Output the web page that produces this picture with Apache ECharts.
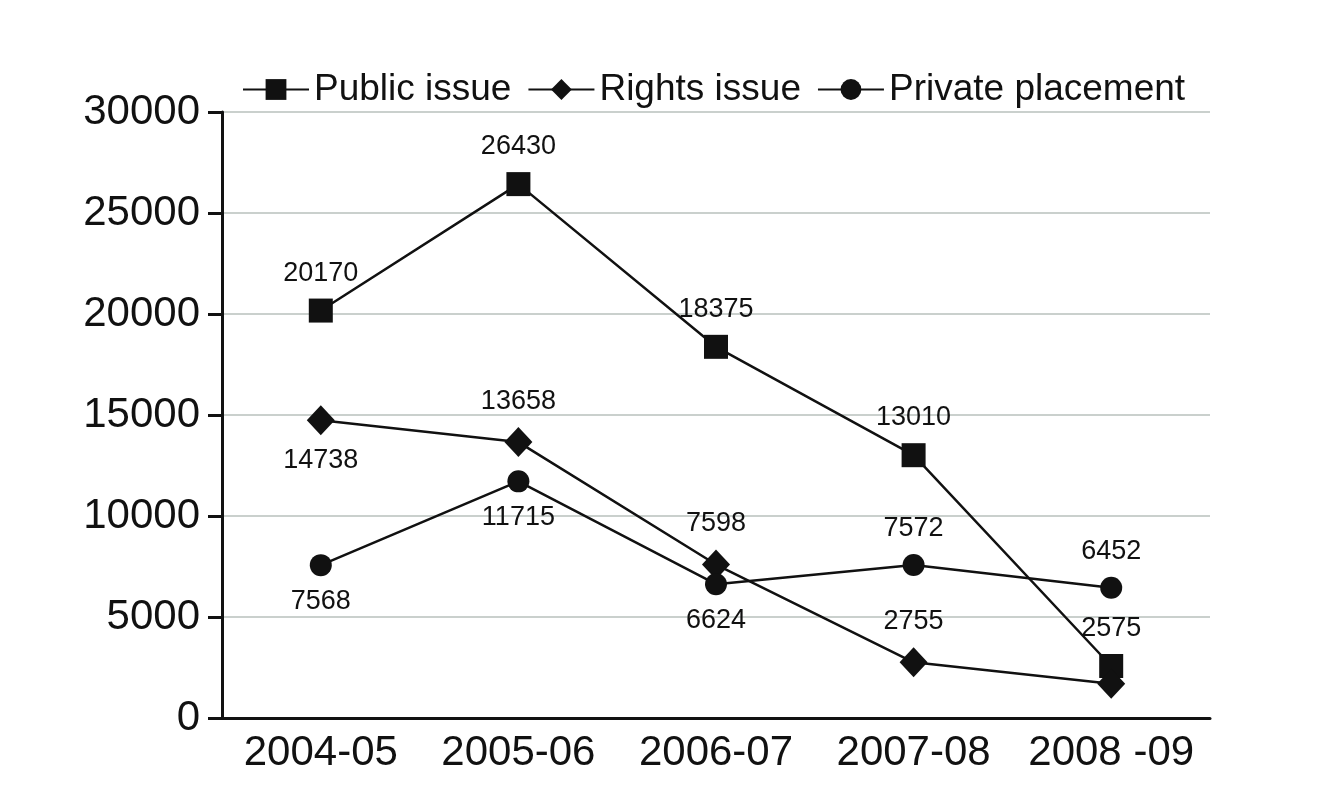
<!DOCTYPE html>
<html>
<head>
<meta charset="utf-8">
<script src="https://cdn.jsdelivr.net/npm/echarts@6/dist/echarts.min.js"></script>
<style>html,body{margin:0;padding:0;background:#fff;}#c{width:1326px;height:802px;}</style>
</head>
<body>
<div id="c"></div>
<script>
const categories = ['2004-05', '2005-06', '2006-07', '2007-08', '2008 -09'];
const publicIssue = [20170, 26430, 18375, 13010, 2575];
const rightsIssue = [14738, 13658, 7598, 2755, 1700];
const privatePlacement = [7568, 11715, 6624, 7572, 6452];
const yTicks = [0, 5000, 10000, 15000, 20000, 25000, 30000];

const FONT = '"Liberation Sans", Arial, sans-serif';
const chart = echarts.init(document.getElementById('c'));

function mk(values, positions, hidden) {
  return values.map((v, i) => ({
    value: v,
    label: { show: !(hidden && hidden[i]), position: positions[i] }
  }));
}
const lbl = { show: true, color: '#111', fontSize: 27, fontFamily: FONT, distance: 12 };

chart.setOption({
  backgroundColor: '#fff',
  animation: false,
  legend: {
    top: 66, left: 237,
    itemWidth: 66, itemHeight: 26, itemGap: 16,
    textStyle: { fontSize: 37, fontFamily: FONT, color: '#111', padding: [0, 0, 0, 0] },
    data: ['Public issue', 'Rights issue', 'Private placement']
  },
  grid: { left: 222, right: 116, top: 112, bottom: 84 },
  xAxis: {
    type: 'category', data: categories,
    axisLine: { lineStyle: { color: '#111', width: 3 } },
    axisTick: { show: false },
    axisLabel: { interval: 0, fontSize: 42, fontFamily: FONT, color: '#111', margin: 14 }
  },
  yAxis: {
    type: 'value', min: yTicks[0], max: yTicks[yTicks.length - 1], interval: 5000,
    axisLine: { show: true, lineStyle: { color: '#111', width: 3 } },
    axisTick: { show: true, length: 14, lineStyle: { color: '#111', width: 3 } },
    axisLabel: { fontSize: 42, fontFamily: FONT, color: '#111', margin: 22, formatter: v => String(v) },
    splitLine: { lineStyle: { color: '#b8c0bc', width: 1.5 } }
  },
  series: [
    {
      name: 'Public issue', type: 'line', symbol: 'rect', symbolSize: 24,
      itemStyle: { color: '#111' }, lineStyle: { color: '#111', width: 2.5 },
      label: lbl,
      data: mk(publicIssue, ['top', 'top', 'top', 'top', 'top'])
    },
    {
      name: 'Rights issue', type: 'line', symbol: 'diamond', symbolSize: [28, 30],
      itemStyle: { color: '#111' }, lineStyle: { color: '#111', width: 2.5 },
      label: lbl,
      data: mk(rightsIssue, ['bottom', 'top', 'top', 'top', 'top'], [false, false, false, false, true])
    },
    {
      name: 'Private placement', type: 'line', symbol: 'circle', symbolSize: 22,
      itemStyle: { color: '#111' }, lineStyle: { color: '#111', width: 2.5 },
      label: lbl,
      data: mk(privatePlacement, ['bottom', 'bottom', 'bottom', 'top', 'top'])
    }
  ]
});
</script>
</body>
</html>
